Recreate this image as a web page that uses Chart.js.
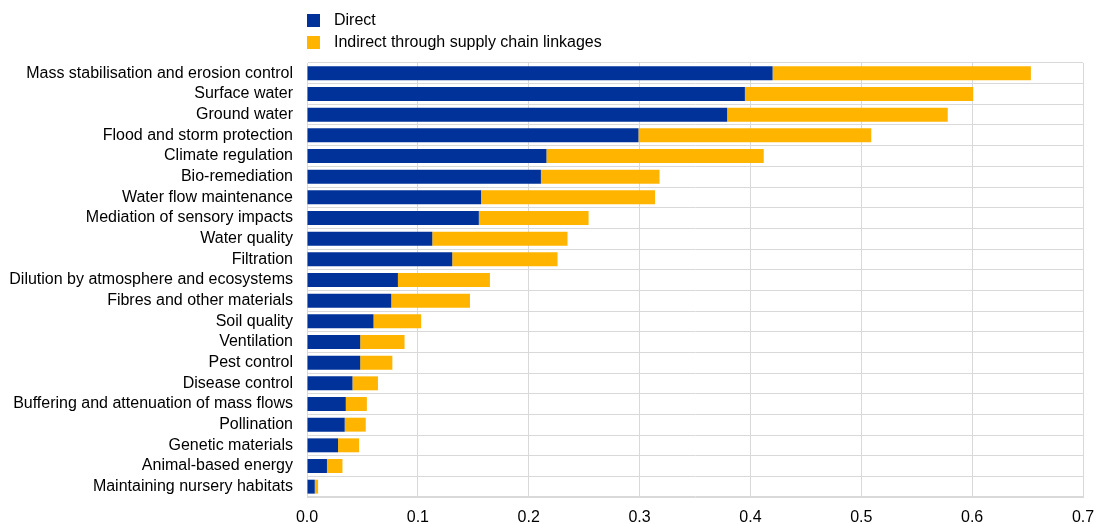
<!DOCTYPE html>
<html>
<head>
<meta charset="utf-8">
<script src="https://cdn.jsdelivr.net/npm/chart.js@4/dist/chart.umd.min.js"></script>
<style>
  body { margin: 0; background: #fff; font-family: "Liberation Sans", Arial, sans-serif; }
  #wrap { position: relative; width: 1096px; height: 524px; }
  .leg { position: absolute; left: 307px; font-size: 16px; color: #000; display: flex; align-items: center; }
  .leg span.box { display: inline-block; width: 13px; height: 13px; margin-right: 14px; }
</style>
</head>
<body>
<div id="wrap">
  <canvas id="myChart" width="1096" height="524"></canvas>
  <div class="leg" style="top:11px"><span class="box" style="background:#003299"></span>Direct</div>
  <div class="leg" style="top:33px"><span class="box" style="background:#ffb400"></span>Indirect through supply chain linkages</div>
</div>
<script>
const categories = [
  'Mass stabilisation and erosion control', 'Surface water', 'Ground water',
  'Flood and storm protection', 'Climate regulation', 'Bio-remediation',
  'Water flow maintenance', 'Mediation of sensory impacts', 'Water quality',
  'Filtration', 'Dilution by atmosphere and ecosystems', 'Fibres and other materials',
  'Soil quality', 'Ventilation', 'Pest control', 'Disease control',
  'Buffering and attenuation of mass flows', 'Pollination', 'Genetic materials',
  'Animal-based energy', 'Maintaining nursery habitats'
];
// direct dependency
const direct = [0.420, 0.395, 0.379, 0.299, 0.216, 0.211, 0.157, 0.155, 0.113, 0.131,
  0.082, 0.076, 0.060, 0.048, 0.048, 0.041, 0.035, 0.034, 0.028, 0.018, 0.007];
// indirect through supply chain
const indirect = [0.233, 0.206, 0.199, 0.210, 0.196, 0.107, 0.157, 0.099, 0.122, 0.095,
  0.083, 0.071, 0.043, 0.040, 0.029, 0.023, 0.019, 0.019, 0.019, 0.014, 0.003];

let ctx = document.getElementById('myChart').getContext('2d');
let myChart = new Chart(ctx, {
  type: 'bar',
  data: {
    labels: categories,
    datasets: [{
      label: 'Direct',
      data: direct,
      backgroundColor: '#003299'
    }, {
      label: 'Indirect through supply chain linkages',
      data: indirect,
      backgroundColor: '#ffb400'
    }]
  },
  options: {
    indexAxis: 'y',
    responsive: false,
    animation: false,
    datasets: { bar: { barPercentage: 0.9, categoryPercentage: 0.75 } },
    layout: { padding: { top: 63, right: 0, left: 10, bottom: 0 } },
    plugins: { legend: { display: false }, tooltip: { enabled: false } },
    scales: {
      x: {
        stacked: true,
        min: 0, max: 0.7,
        afterFit: s => { s.height = 27; s.paddingRight = 13; s.paddingLeft = 0; },
        ticks: { stepSize: 0.1, color: '#000', font: { family: 'Liberation Sans', size: 16 },
          callback: v => v.toFixed(1), padding: 11 },
        grid: { color: '#d9d9d9', drawTicks: false },
        border: { color: '#d9d9d9' }
      },
      y: {
        stacked: true,
        afterFit: s => { s.width = 297; },
        ticks: { color: '#000', font: { family: 'Liberation Sans', size: 16 }, padding: 14, autoSkip: false },
        grid: { color: '#d9d9d9', offset: true, drawTicks: false },
        border: { color: '#d9d9d9' }
      }
    }
  }
});
</script>
</body>
</html>
